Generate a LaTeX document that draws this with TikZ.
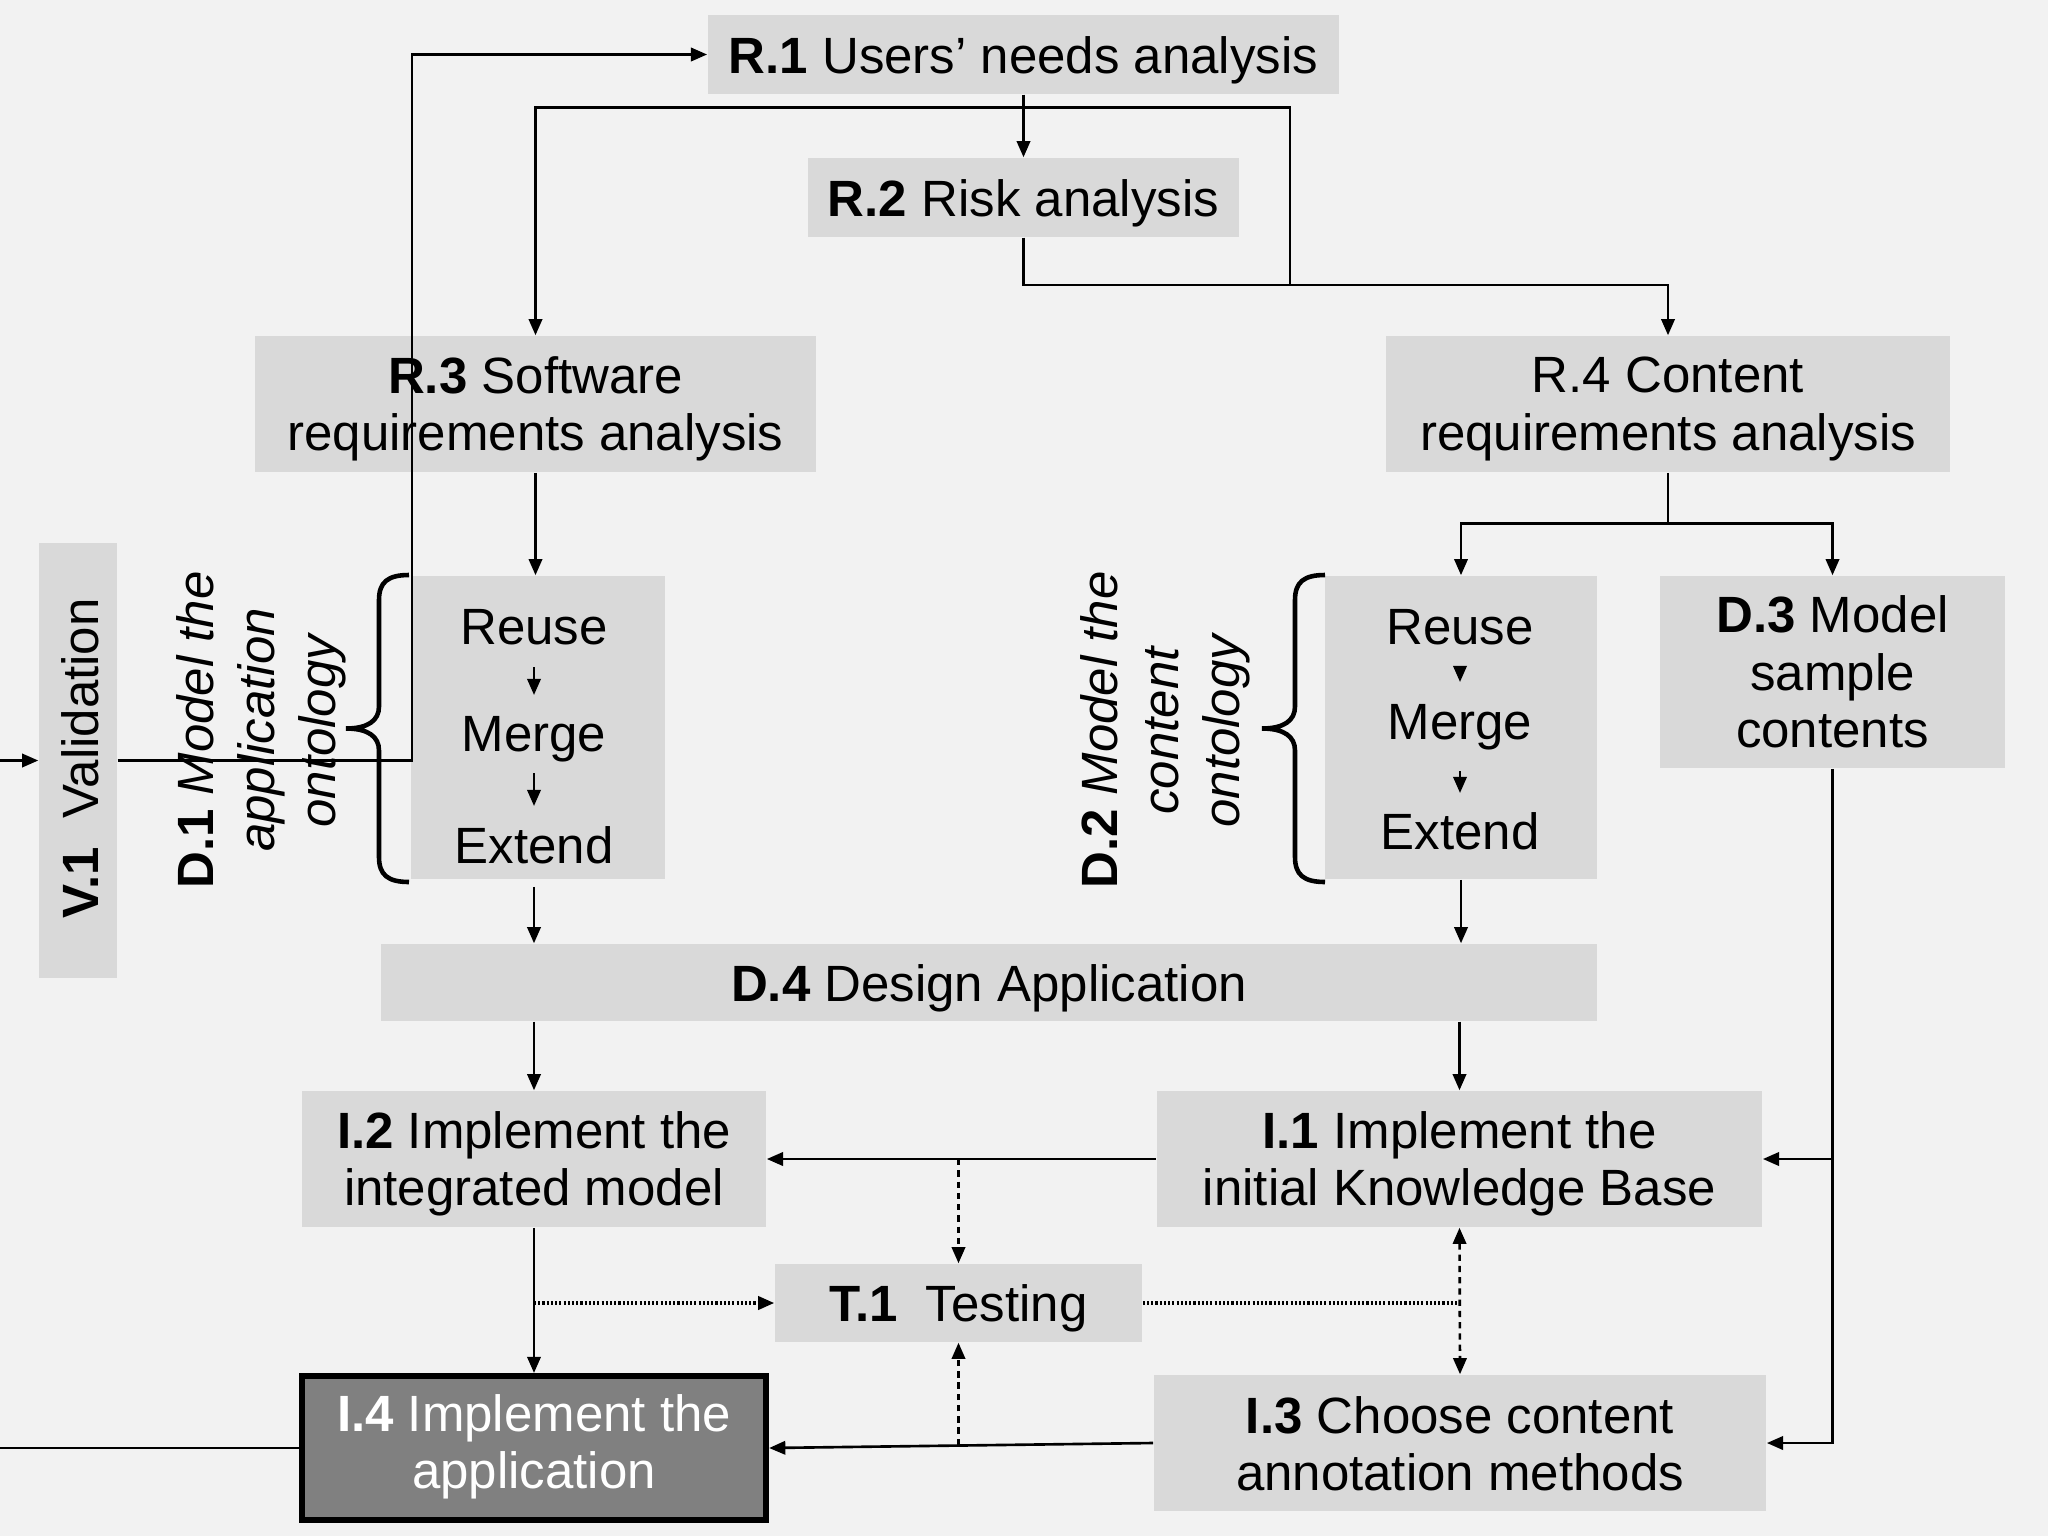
\documentclass[tikz,border=0pt]{standalone}
\usepackage{fontspec}
\setmainfont{Liberation Sans}
\usetikzlibrary{arrows.meta,calc}
\definecolor{bg}{HTML}{F2F2F2}
\definecolor{boxgray}{HTML}{D9D9D9}
\definecolor{darkbox}{HTML}{808080}
\begin{document}
\begin{tikzpicture}[x=0.01cm,y=-0.01cm,
  txt/.style={font=\fontsize{14.5pt}{16.3pt}\selectfont},
  box/.style={txt, fill=boxgray, align=center, inner sep=0pt, execute at begin node={\rule{0pt}{0.94em}}},
  emptybox/.style={fill=boxgray, inner sep=0pt},
  ttxt/.style={txt, align=center, inner sep=0pt},
  lbl/.style={txt, inner sep=0pt, text height=0.72em, text depth=0pt},
  rlbl/.style={font=\fontsize{14.5pt}{17.3pt}\selectfont, align=center, rotate=90, inner sep=0pt},
  arr/.style={line width=0.75pt, -{Triangle[length=4.6pt,width=3.8pt]}},
  dblarr/.style={line width=0.75pt, {Triangle[length=4.6pt,width=3.8pt]}-{Triangle[length=4.6pt,width=3.8pt]}},
  ln/.style={line width=0.75pt},
  dotl/.style={line width=0.9pt, dash pattern=on 0.6pt off 0.6pt},
  dashl/.style={dash pattern=on 1.8pt off 1.4pt},
  brc/.style={line width=1.3pt},
  pics/curly/.style={code={\draw[brc] (0,-153.5) .. controls (-21,-153.5) and (-30,-146.5) .. (-30,-128.5) -- (-30,-22) .. controls (-30,-8) and (-41,0) .. (-63,0) .. controls (-41,0) and (-30,8) .. (-30,22) -- (-30,128.5) .. controls (-30,146.5) and (-21,153.5) .. (0,153.5);}}
]
\fill[bg] (0,0) rectangle (2048,1536);
\useasboundingbox (0,0) rectangle (2048,1536);

% single-line boxes
\node[box, minimum width=6.31cm, minimum height=0.79cm] (R1) at (1023.5,54.5) {\textbf{R.1} Users’ needs analysis};
\node[box, minimum width=4.31cm, minimum height=0.79cm] (R2) at (1023.5,197.5) {\textbf{R.2} Risk analysis};
\node[box, minimum width=12.16cm, minimum height=0.77cm] (D4) at (989,982.5) {\textbf{D.4} Design Application};
\node[box, minimum width=3.67cm, minimum height=0.78cm] (T1) at (958.5,1303) {\textbf{T.1}\ \ Testing};

% two-line boxes
\node[emptybox, minimum width=5.61cm, minimum height=1.36cm] (R3) at (535.5,404) {};
\node[ttxt] (R3t) at ($(R3.center)+(0,5)$) {\textbf{R.3} Software\\requirements analysis};
\node[emptybox, minimum width=5.64cm, minimum height=1.36cm] (R4) at (1668,404) {};
\node[ttxt] (R4t) at ($(R4.center)+(0,5)$) {R.4 Content\\requirements analysis};
\node[emptybox, minimum width=4.64cm, minimum height=1.36cm] (I2) at (534,1159) {};
\node[ttxt] (I2t) at ($(I2.center)+(0,5)$) {\textbf{I.2} Implement the\\integrated model};
\node[emptybox, minimum width=6.05cm, minimum height=1.36cm] (I1) at (1459.5,1159) {};
\node[ttxt] (I1t) at ($(I1.center)+(0,5)$) {\textbf{I.1} Implement the\\initial Knowledge Base};
\node[emptybox, minimum width=6.12cm, minimum height=1.36cm] (I3) at (1460,1443) {};
\node[ttxt] (I3t) at ($(I3.center)+(0,1)$) {\textbf{I.3} Choose content\\annotation methods};
\node[emptybox, fill=darkbox, draw=black, line width=0.06cm, minimum width=4.64cm, minimum height=1.44cm] (I4) at (534,1448) {};
\node[ttxt, text=white] (I4t) at ($(I4.center)+(0,-1)$) {\textbf{I.4} Implement the\\application};

% three-line box
\node[box, minimum width=3.45cm, minimum height=1.92cm] (D3) at (1832.5,672) {\textbf{D.3} Model\\sample\\contents};

% validation
\node[emptybox, minimum width=0.78cm, minimum height=4.35cm] (V1) at (78,760.5) {};
\node[txt, rotate=90, inner sep=0pt] (V1t) at ($(V1.center)+(2,-2)$) {\textbf{V.1}\ \ Validation};

% ontology groups
\node[emptybox, minimum width=2.54cm, minimum height=3.03cm] (D1) at (538,727.5) {};
\node[lbl] (d1r) at (534,632) {Reuse};
\node[lbl] (d1m) at (534,739) {Merge};
\node[lbl] (d1e) at (534,851) {Extend};

\node[emptybox, minimum width=2.72cm, minimum height=3.03cm] (D2) at (1461,727.5) {};
\node[lbl] (d2r) at (1460,632) {Reuse};
\node[lbl] (d2m) at (1460,727) {Merge};
\node[lbl] (d2e) at (1460,837) {Extend};

% rotated labels
\node[rlbl] (D1l) at (261,730) {\textbf{D.1} \textit{Model the}\\\textit{application}\\\textit{ontology}};
\node[rlbl] (D2l) at (1165,730) {\textbf{D.2} \textit{Model the}\\\textit{content}\\\textit{ontology}};

% braces
\pic at (409,728.5) {curly};
\pic at (1325,728.5) {curly};

% inner arrows
\draw[arr] ($(d1r.center)+(0,35)$) -- ($(d1m.center)+(0,-44)$);
\draw[arr] ($(d1m.center)+(0,34)$) -- ($(d1e.center)+(0,-45)$);
\draw[arr] ($(d2r.center)+(0,35)$) -- ($(d2m.center)+(0,-45)$);
\draw[arr] ($(d2m.center)+(0,44)$) -- ($(d2e.center)+(0,-44)$);

% top connectors
\coordinate (r1j) at ($(R1.south)+(0,13)$);
\coordinate (r24) at (1290,285);
\draw[arr] (R1.south) -- (R2.north);
\draw[arr] (r1j) -| (R3.north);
\draw[ln] (r1j) -| (r24);
\draw[arr] (R2.south) |- (r24) -| (R4.north);
\coordinate (r4j) at ($(R4.south)+(0,51)$);
\draw[arr] (R4.south) -- (r4j) -| (D2.north);
\draw[arr] (r4j) -| (D3.north);

% middle connectors
\draw[arr] (R3.south) -- (R3.south |- D1.north);
\draw[arr] ($(I2.north |- D1.south)+(0,7)$) -- (I2.north |- D4.north);
\draw[arr] (D2.south) -- (D2.south |- D4.north);
\draw[arr] (I2.north |- D4.south) -- (I2.north);
\draw[arr] (I1.north |- D4.south) -- (I1.north);

% bottom connectors
\draw[arr] (I1.west) -- (I2.east);
\draw[arr] (I3.west) -- (I4.east);
\draw[arr] (D3.south) |- (I3.east);
\draw[arr] (D3.south |- I1.east) -- (I1.east);
\draw[arr] (I2.south) -- (I4.north);
\draw[arr,dashl] (T1.north |- I2.east) -- (T1.north);
\draw[arr,dotl] (I2.south |- T1.west) -- (T1.west);
\draw[dotl] (T1.east) -- (I1.south |- T1.east);
\draw[dblarr,dashl] (I1.south) -- (I3.north);
\draw[arr,dashl] ($(T1.south |- I3.west)+(0,2)$) -- (T1.south);

% left loop
\coordinate (lin) at (0,760.5);
\coordinate (lout) at (0,1448);
\coordinate (vloop) at (412,400);
\draw[arr] (lin) -- (V1.west);
\draw[ln] (I4.west) -- (lout);
\draw[arr] (V1.east) -| (vloop) |- (R1.west);
\end{tikzpicture}
\end{document}
